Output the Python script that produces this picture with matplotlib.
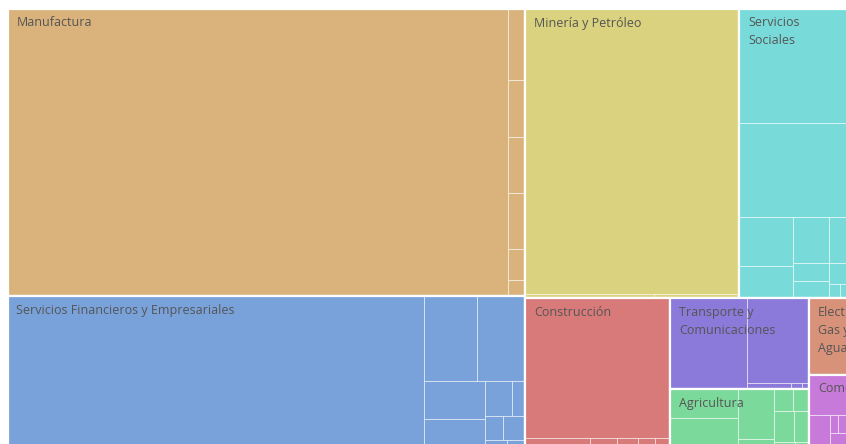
import matplotlib.pyplot as plt
from matplotlib.patches import Rectangle

# Sector names, colours and the values of their sub-items (same units throughout)
sectors = ['Manufactura', 'Servicios Financieros y Empresariales', 'Minería y Petróleo',
           'Servicios\nSociales', 'Construcción', 'Transporte y\nComunicaciones',
           'Agricultura', 'Electricidad\nGas y\nAgua', 'Comercio']
colors = ['#D9B27C', '#7AA2DA', '#DAD27E', '#79DBD9', '#D97A7A', '#8B7AD9',
          '#7CD99C', '#D9927A', '#C77AD9']

manufactura = [143.50, 1.24, 1.00, 0.98, 0.98, 0.54, 0.28]
financieros = [67.79, 4.55, 4.12, 2.31, 2.44, 0.92, 0.47, 0.43, 0.55, 0.19, 0.22, 0.36]
mineria = [61.10, 0.45, 0.30]
sociales = [13.55, 11.07, 2.62, 1.73, 1.66, 1.33, 0.65, 0.62, 0.63, 0.15, 0.25]
construccion = [20.26, 1.37, 0.57, 0.46, 0.36, 0.23, 0.10]
transporte = [6.93, 5.32, 0.28, 0.07, 0.05]
agricultura = [1.92, 2.78, 1.83, 0.40, 0.34, 0.41, 0.35, 0.60, 0.50, 0.35, 0.25]
electricidad = [3.73]
comercio = [1.94, 0.81, 0.09, 0.15, 0.35, 0.30, 0.25, 0.19]

children = [manufactura, financieros, mineria, sociales, construccion,
            transporte, agricultura, electricidad, comercio]

PHI = (1 + 5 ** 0.5) / 2


def squarify(values, x0, y0, x1, y1, ratio=PHI):
    # d3-style squarified treemap, returns (x, y, w, h) for each value
    rects = []
    n = len(values)
    value = float(sum(values))
    i0 = 0
    while i0 < n:
        dx, dy = x1 - x0, y1 - y0
        i1 = i0
        sum_v = values[i1]
        i1 += 1
        min_v = max_v = sum_v
        alpha = max(dy / dx, dx / dy) / (value * ratio)
        beta = sum_v * sum_v * alpha
        min_ratio = max(max_v / beta, beta / min_v)
        while i1 < n:
            v = values[i1]
            sum_v += v
            min_v, max_v = min(min_v, v), max(max_v, v)
            beta = sum_v * sum_v * alpha
            new_ratio = max(max_v / beta, beta / min_v)
            if new_ratio > min_ratio:
                sum_v -= v
                break
            min_ratio = new_ratio
            i1 += 1
        row = values[i0:i1]
        if dx < dy:
            yb = y0 + dy * sum_v / value
            xx = x0
            for v in row:
                w = dx * v / sum_v
                rects.append((xx, y0, w, yb - y0))
                xx += w
            y0 = yb
        else:
            xb = x0 + dx * sum_v / value
            yy = y0
            for v in row:
                h = dy * v / sum_v
                rects.append((x0, yy, xb - x0, h))
                yy += h
            x0 = xb
        value -= sum_v
        i0 = i1
    return rects


fig = plt.figure(figsize=(8.46, 4.44), dpi=100)
ax = fig.add_axes([0, 0, 1, 1])
ax.set_xlim(0, 846)
ax.set_ylim(444, 0)
ax.axis('off')

# full treemap area in pixels (the picture only shows its upper-left part)
X0, Y0, W, H = 8, 9, 850, 450
totals = [sum(c) for c in children]
top = squarify(totals, X0, Y0, X0 + W, Y0 + H)

for (x, y, w, h), name, col, vals in zip(top, sectors, colors, children):
    for (cx, cy, cw, ch) in squarify(vals, x, y, x + w, y + h):
        ax.add_patch(Rectangle((cx, cy), cw, ch, facecolor=col,
                               edgecolor=(1, 1, 1, 0.5), lw=0.7))
    ax.add_patch(Rectangle((x, y), w, h, facecolor='none', edgecolor='white', lw=1.6))
    for k, line in enumerate(name.split('\n')):
        ax.text(x + 8.5, y + 17.5 + 18 * k, line, fontsize=9.0, family='Open Sans',
                color='#555555', va='baseline', ha='left')

fig.savefig('out.png', dpi=100)
